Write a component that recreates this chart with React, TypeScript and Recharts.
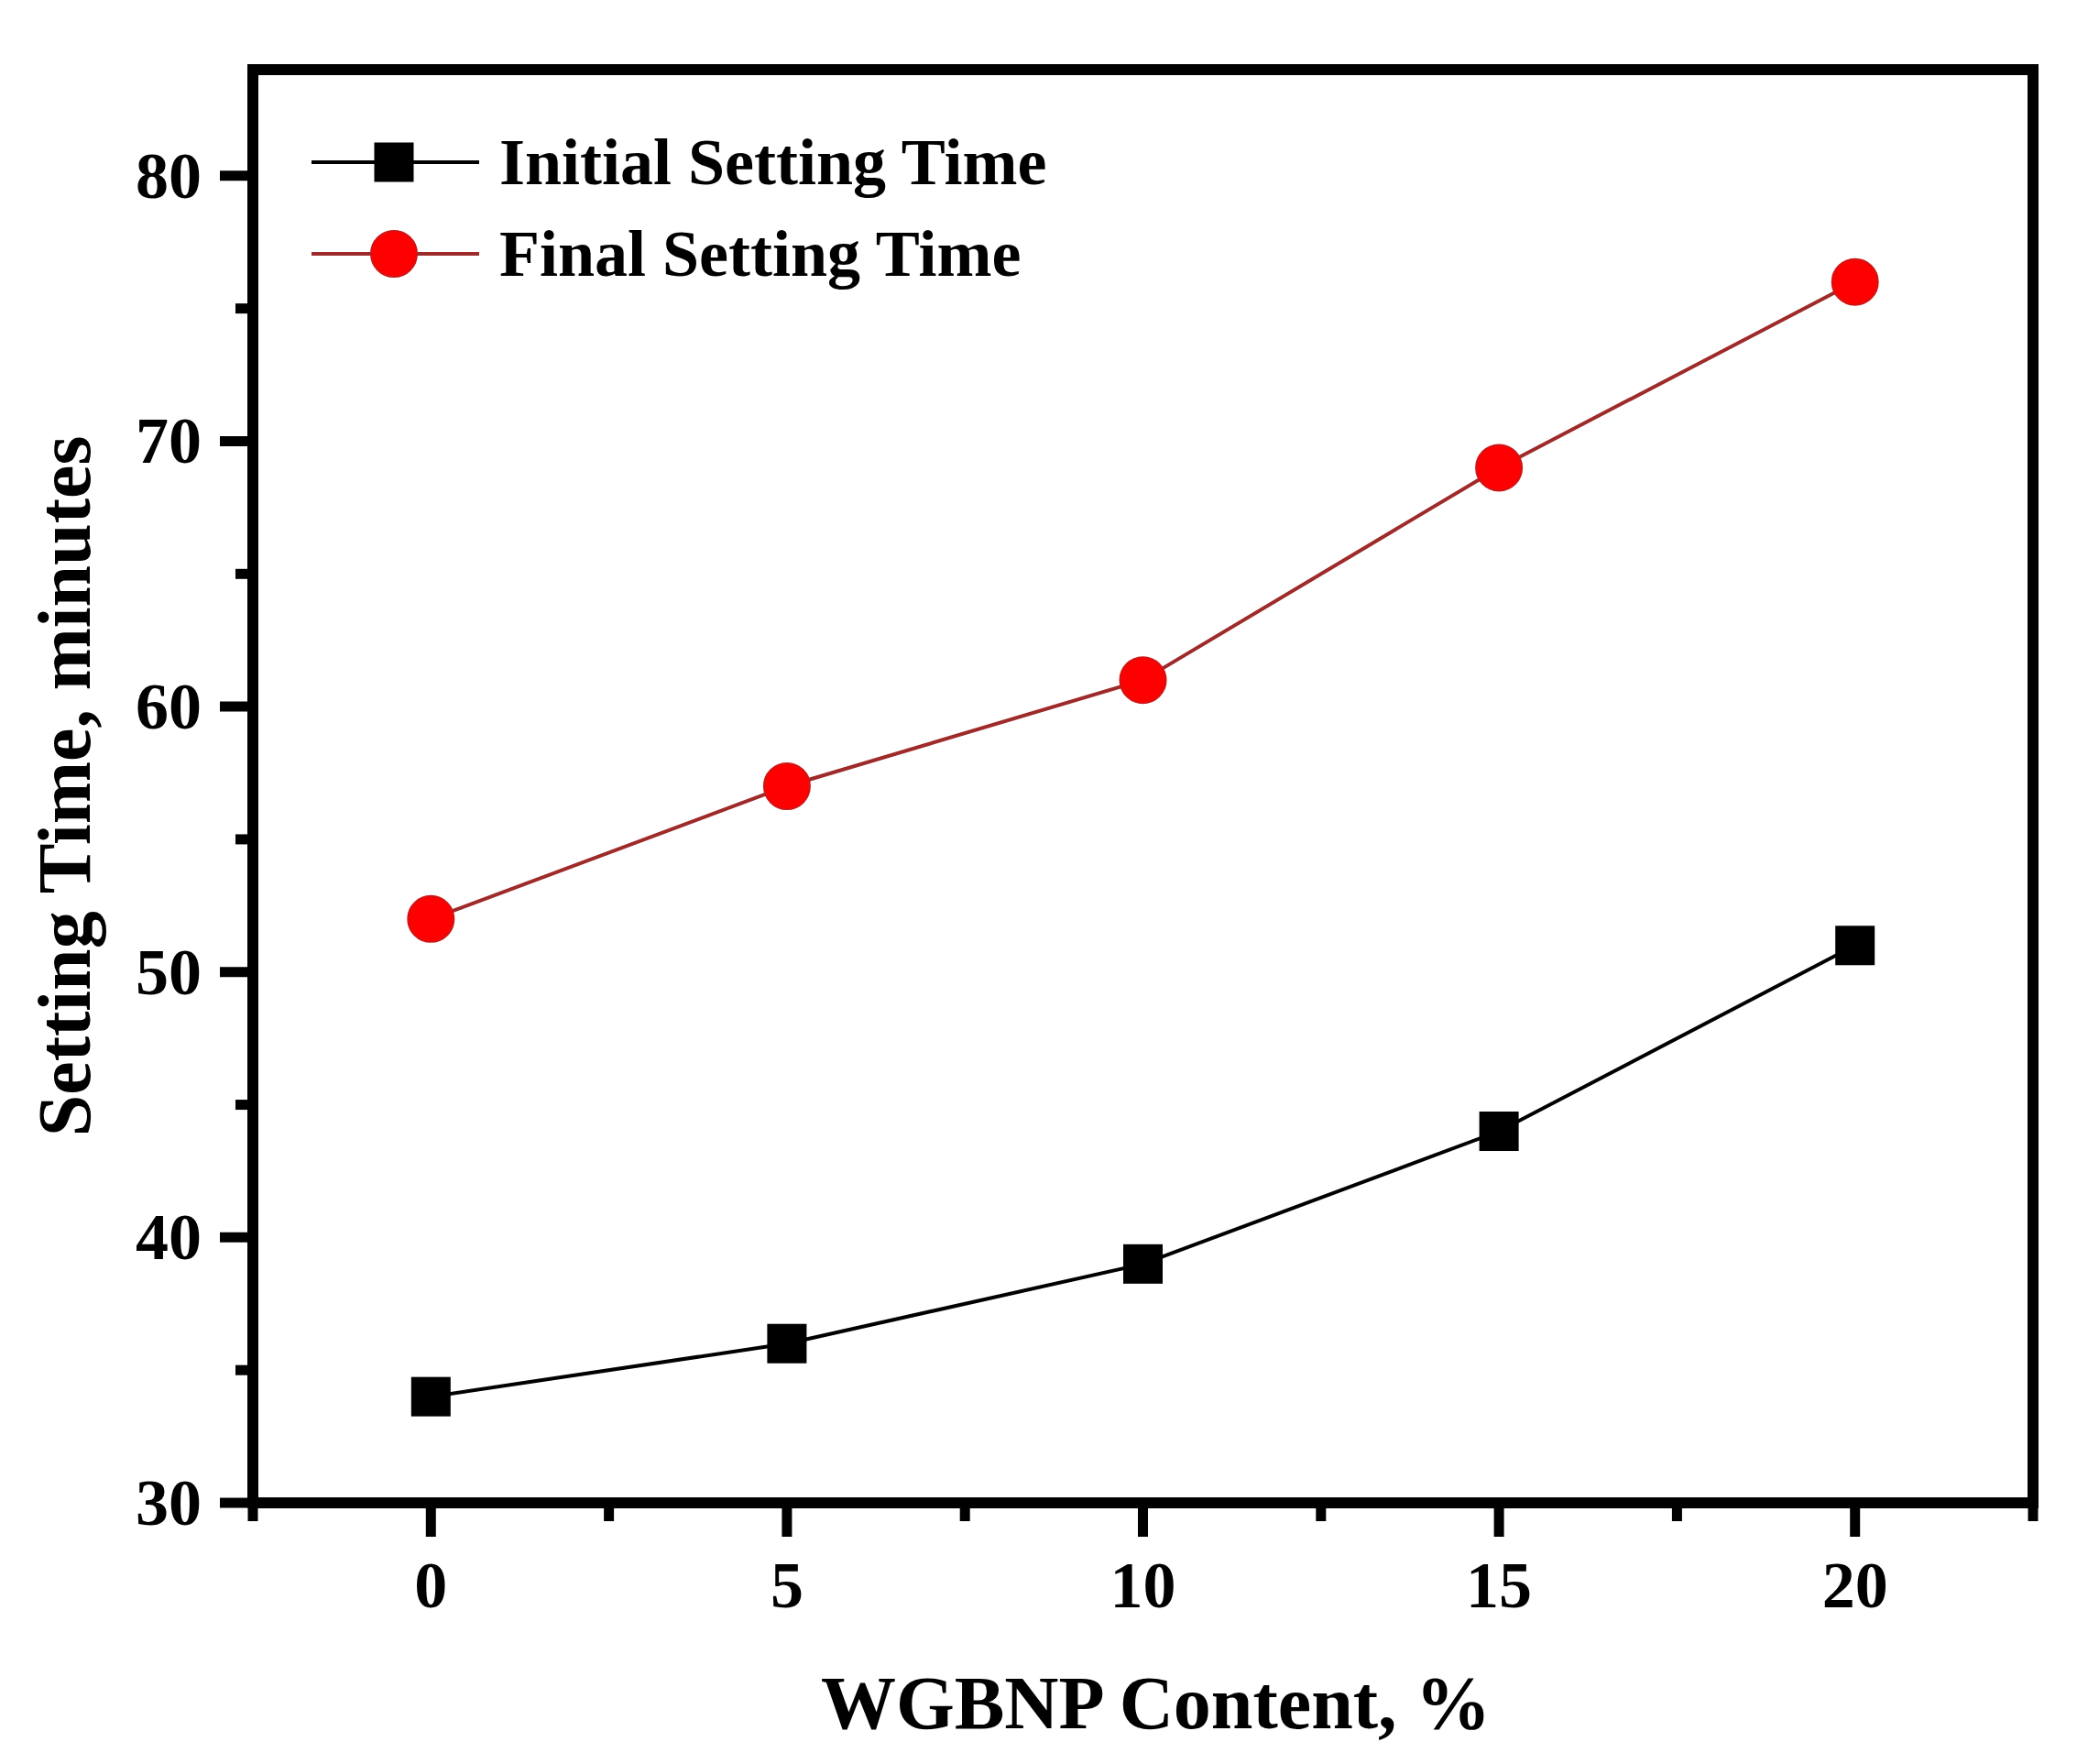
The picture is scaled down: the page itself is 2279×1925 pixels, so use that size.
import React from 'react';
import { Legend, Line, LineChart, ReferenceArea, XAxis, YAxis } from 'recharts';

const CONTENTS = [0, 5, 10, 15, 20];
const INITIAL_SETTING = [34, 36, 39, 44, 51];
const FINAL_SETTING = [52, 57, 61, 69, 76];

const X_TICKS = [-2.5, 0, 2.5, 5, 7.5, 10, 12.5, 15, 17.5, 20, 22.5];
const Y_TICKS = [30, 35, 40, 45, 50, 55, 60, 65, 70, 75, 80];
const X_DOMAIN = [-2.5, 22.5];
const Y_DOMAIN = [30, 84];

const SERIES_KEYS = ['initial', 'final'];
const SERIES_NAMES = ['Initial Setting Time', 'Final Setting Time'];
const X_TITLE = 'WGBNP Content, %';
const Y_TITLE = 'Setting Time, minutes';

const FONT = '"Liberation Serif", "Times New Roman", serif';
const INITIAL_COLOR = '#000000';
const FINAL_LINE_COLOR = '#9e2a2a';
const FINAL_DOT_COLOR = '#ff0000';

const chartData = CONTENTS.map((c, i) => ({
  content: c,
  initial: INITIAL_SETTING[i],
  final: FINAL_SETTING[i],
}));

const SquareDot = (props: any) => {
  const { cx, cy } = props;
  if (cx == null || cy == null) return <g />;
  return <rect x={cx - 21.5} y={cy - 21.5} width={43} height={43} fill={INITIAL_COLOR} />;
};

const CircleDot = (props: any) => {
  const { cx, cy } = props;
  if (cx == null || cy == null) return <g />;
  return <circle cx={cx} cy={cy} r={25} fill={FINAL_DOT_COLOR} stroke="#d01515" strokeWidth={2} />;
};

const XTick = (props: any) => {
  const { x, y, payload } = props;
  const v = payload.value;
  const major = v % 5 === 0;
  return (
    <g>
      <line x1={x} x2={x} y1={y} y2={y + (major ? 37 : 20)} stroke="#000" strokeWidth={11} />
      {major && (
        <text x={x} y={y + 114} textAnchor="middle" fontFamily={FONT} fontWeight="bold" fontSize={72} fill="#000">
          {v}
        </text>
      )}
    </g>
  );
};

const YTick = (props: any) => {
  const { x, y, payload } = props;
  const v = payload.value;
  const major = v % 10 === 0;
  return (
    <g>
      <line x1={x} x2={x - (major ? 36 : 19)} y1={y} y2={y} stroke="#000" strokeWidth={11} />
      {major && (
        <text x={x - 56} y={y + 24} textAnchor="end" fontFamily={FONT} fontWeight="bold" fontSize={72} fill="#000">
          {v}
        </text>
      )}
    </g>
  );
};

const XTitle = (props: any) => {
  const vb = props.viewBox || { x: 276, y: 1640, width: 1943 };
  return (
    <text
      x={vb.x + vb.width / 2 + 14}
      y={vb.y + 246}
      textAnchor="middle"
      fontFamily={FONT}
      fontWeight="bold"
      fontSize={82}
      fill="#000"
    >
      {X_TITLE}
    </text>
  );
};

const YTitle = (props: any) => {
  const vb = props.viewBox || { x: 0, y: 76, height: 1564 };
  const cx = vb.x + 98;
  const cy = vb.y + vb.height / 2;
  return (
    <text
      x={cx}
      y={cy}
      transform={`rotate(-90, ${cx}, ${cy})`}
      textAnchor="middle"
      fontFamily={FONT}
      fontWeight="bold"
      fontSize={82}
      fill="#000"
    >
      {Y_TITLE}
    </text>
  );
};

const LegendContent = (props: any) => {
  const items = [...(props.payload || [])].sort(
    (a: any, b: any) => SERIES_KEYS.indexOf(a.dataKey) - SERIES_KEYS.indexOf(b.dataKey),
  );
  return (
    <div>
      {items.map((item: any) => {
        const isFinal = item.dataKey === 'final';
        return (
          <div key={item.value} style={{ display: 'flex', alignItems: 'center', height: 100 }}>
            <svg width={205} height={100} style={{ display: 'block' }}>
              <line
                x1={0}
                x2={183}
                y1={50}
                y2={50}
                stroke={isFinal ? FINAL_LINE_COLOR : INITIAL_COLOR}
                strokeWidth={4}
              />
              {isFinal ? (
                <circle cx={90} cy={50} r={25} fill={FINAL_DOT_COLOR} stroke="#d01515" strokeWidth={2} />
              ) : (
                <rect x={68.5} y={28.5} width={43} height={43} fill={INITIAL_COLOR} />
              )}
            </svg>
            <span
              style={{
                fontFamily: FONT,
                fontWeight: 'bold',
                fontSize: 72,
                lineHeight: '100px',
                color: '#000',
                whiteSpace: 'nowrap',
              }}
            >
              {item.value}
            </span>
          </div>
        );
      })}
    </div>
  );
};

export default function App() {
  return (
    <div style={{ position: 'absolute', left: 0, top: 0, width: 2279, height: 1925, background: '#fff' }}>
      <LineChart
        width={2279}
        height={1925}
        data={chartData}
        margin={{ top: 76, right: 60, left: 0, bottom: 0 }}
      >
        <ReferenceArea
          x1={X_DOMAIN[0]}
          x2={X_DOMAIN[1]}
          y1={Y_DOMAIN[0]}
          y2={Y_DOMAIN[1]}
          fill="none"
          fillOpacity={0}
          stroke="#000"
          strokeWidth={12}
          ifOverflow="visible"
        />
        <XAxis
          dataKey="content"
          type="number"
          domain={X_DOMAIN}
          ticks={X_TICKS}
          interval={0}
          height={285}
          axisLine={false}
          tickLine={false}
          tickSize={0}
          tickMargin={0}
          tick={<XTick />}
          label={<XTitle />}
        />
        <YAxis
          type="number"
          domain={Y_DOMAIN}
          ticks={Y_TICKS}
          interval={0}
          width={276}
          axisLine={false}
          tickLine={false}
          tickSize={0}
          tickMargin={0}
          tick={<YTick />}
          label={<YTitle />}
        />
        <Legend
          layout="horizontal"
          verticalAlign="middle"
          align="center"
          wrapperStyle={{ left: 340, top: 127, width: 'auto', margin: 0, padding: 0 }}
          content={<LegendContent />}
        />
        <Line
          type="linear"
          dataKey="initial"
          name={SERIES_NAMES[0]}
          stroke={INITIAL_COLOR}
          strokeWidth={4}
          dot={<SquareDot />}
          activeDot={false}
          isAnimationActive={false}
        />
        <Line
          type="linear"
          dataKey="final"
          name={SERIES_NAMES[1]}
          stroke={FINAL_LINE_COLOR}
          strokeWidth={4}
          dot={<CircleDot />}
          activeDot={false}
          isAnimationActive={false}
        />
      </LineChart>
    </div>
  );
}
